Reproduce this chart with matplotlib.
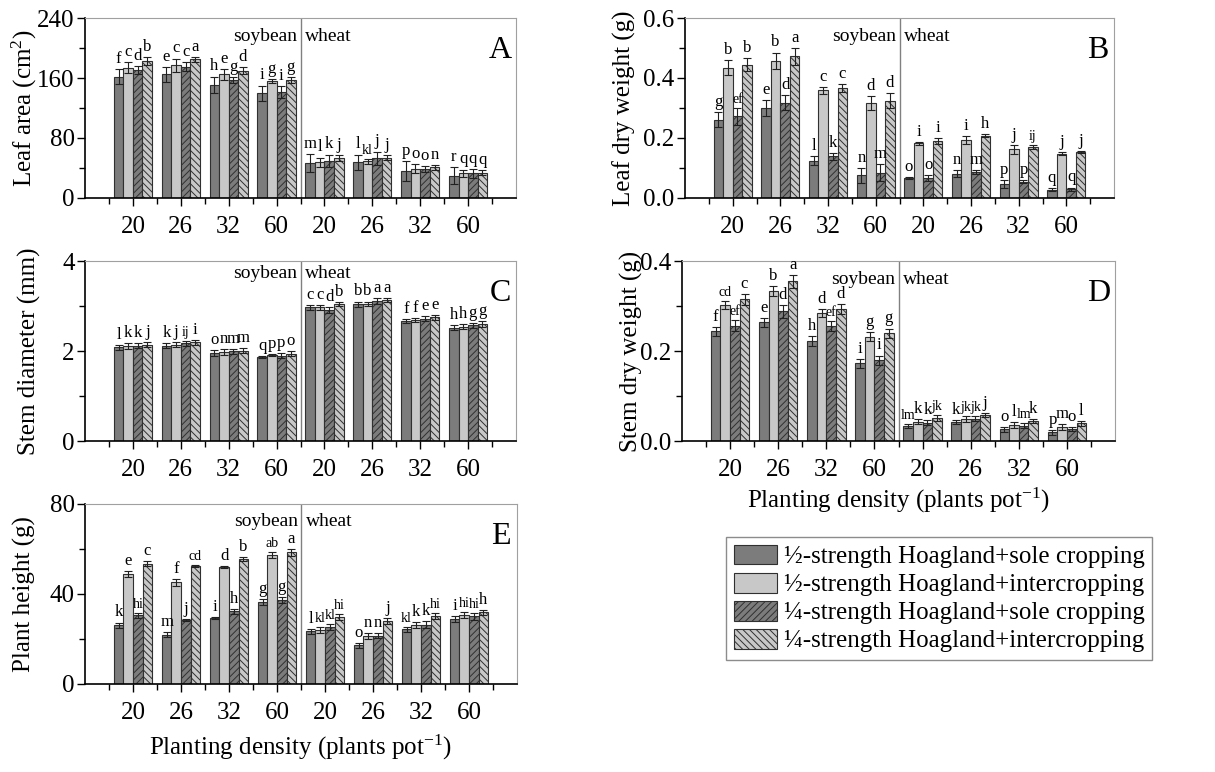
import numpy as np
import matplotlib
matplotlib.use("Agg")
import matplotlib.pyplot as plt
from matplotlib.patches import Patch
from matplotlib.ticker import MultipleLocator, FixedLocator, FormatStrFormatter

densities = ["20", "26", "32", "60", "20", "26", "32", "60"]
treatments = [
    "\u00bd-strength Hoagland+sole cropping",
    "\u00bd-strength Hoagland+intercropping",
    "\u00bc-strength Hoagland+sole cropping",
    "\u00bc-strength Hoagland+intercropping",
]

# A: leaf area (cm2)
leaf_area = [[162, 174, 171, 183], [165, 177, 175, 185], [151, 165, 157, 170], [140, 156, 141, 157],
             [47, 48, 50, 53], [48, 49, 53, 54], [36, 39, 39, 41], [30, 33, 33, 34]]
leaf_area_err = [[10, 7, 5, 5], [10, 9, 6, 3], [11, 7, 4, 5], [10, 3, 8, 4],
                 [12, 6, 8, 4], [10, 3, 9, 3], [13, 6, 4, 3], [11, 5, 6, 3]]
leaf_area_let = [["f", "c", "d", "b"], ["e", "c", "c", "a"], ["h", "e", "g", "d"], ["i", "g", "i", "g"],
                 ["m", "l", "k", "j"], ["l", "kl", "j", "j"], ["p", "o", "o", "n"], ["r", "q", "q", "q"]]

# B: leaf dry weight (g)
leaf_dw = [[0.261, 0.435, 0.272, 0.445], [0.300, 0.458, 0.317, 0.472], [0.125, 0.359, 0.139, 0.367],
           [0.076, 0.316, 0.084, 0.325], [0.067, 0.182, 0.068, 0.190], [0.081, 0.194, 0.087, 0.207],
           [0.046, 0.162, 0.054, 0.171], [0.028, 0.148, 0.030, 0.153]]
leaf_dw_err = [[0.025, 0.024, 0.027, 0.021], [0.026, 0.027, 0.025, 0.027], [0.014, 0.011, 0.012, 0.013],
               [0.025, 0.023, 0.028, 0.025], [0.004, 0.004, 0.010, 0.010], [0.011, 0.013, 0.006, 0.005],
               [0.013, 0.015, 0.005, 0.006], [0.005, 0.006, 0.005, 0.003]]
leaf_dw_let = [["g", "b", "ef", "b"], ["e", "b", "d", "a"], ["l", "c", "k", "c"], ["n", "d", "m", "d"],
               ["o", "i", "o", "i"], ["n", "i", "m", "h"], ["p", "j", "p", "ij"], ["q", "j", "q", "j"]]

# C: stem diameter (mm)
stem_dia = [[2.08, 2.11, 2.12, 2.14], [2.12, 2.14, 2.17, 2.19], [1.96, 1.98, 1.99, 2.01], [1.87, 1.91, 1.90, 1.94],
            [2.97, 2.97, 2.91, 3.04], [3.04, 3.05, 3.11, 3.13], [2.67, 2.69, 2.72, 2.75], [2.52, 2.54, 2.57, 2.60]]
stem_dia_err = [[0.06, 0.06, 0.06, 0.06], [0.06, 0.06, 0.06, 0.06], [0.06, 0.06, 0.06, 0.06], [0.02, 0.02, 0.06, 0.06],
                [0.05, 0.05, 0.06, 0.05], [0.06, 0.05, 0.06, 0.05], [0.05, 0.05, 0.06, 0.05], [0.05, 0.05, 0.05, 0.06]]
stem_dia_let = [["l", "k", "k", "j"], ["k", "j", "ij", "i"], ["o", "n", "m", "m"], ["q", "p", "p", "o"],
                ["c", "c", "d", "b"], ["b", "b", "a", "a"], ["f", "f", "e", "e"], ["h", "h", "g", "g"]]

# D: stem dry weight (g)
stem_dw = [[0.244, 0.302, 0.256, 0.315], [0.264, 0.333, 0.288, 0.355], [0.222, 0.284, 0.256, 0.293],
           [0.173, 0.232, 0.179, 0.240], [0.033, 0.043, 0.041, 0.051], [0.042, 0.049, 0.050, 0.058],
           [0.026, 0.036, 0.034, 0.044], [0.019, 0.031, 0.027, 0.039]]
stem_dw_err = [[0.010, 0.009, 0.012, 0.012], [0.010, 0.011, 0.014, 0.014], [0.011, 0.009, 0.011, 0.011],
               [0.010, 0.010, 0.011, 0.010], [0.005, 0.006, 0.006, 0.006], [0.005, 0.006, 0.006, 0.005],
               [0.006, 0.006, 0.006, 0.005], [0.006, 0.007, 0.005, 0.006]]
stem_dw_let = [["f", "cd", "ef", "c"], ["e", "b", "d", "a"], ["h", "d", "ef", "d"], ["i", "g", "i", "g"],
               ["lm", "k", "k", "jk"], ["k", "jk", "jk", "j"], ["o", "l", "lm", "k"], ["p", "m", "o", "l"]]

# E: plant height
height = [[26.1, 48.9, 30.5, 53.5], [21.9, 45.2, 28.3, 52.3], [29.3, 52.0, 32.3, 55.6], [36.4, 57.3, 37.3, 58.5],
          [23.4, 24.0, 25.3, 29.8], [17.2, 21.3, 21.5, 27.9], [24.3, 26.4, 26.4, 30.2], [28.9, 30.8, 30.1, 31.9]]
height_err = [[1.2, 1.5, 1.2, 1.2], [1.2, 1.5, 0.4, 0.4], [0.4, 0.4, 1.2, 1.0], [1.2, 1.4, 1.4, 1.4],
              [1.0, 1.5, 1.4, 1.3], [1.0, 1.2, 1.2, 1.3], [1.2, 1.3, 1.5, 1.4], [1.2, 1.3, 1.5, 1.1]]
height_let = [["k", "e", "hi", "c"], ["m", "f", "j", "cd"], ["i", "d", "h", "b"], ["g", "ab", "g", "a"],
              ["l", "kl", "kl", "hi"], ["o", "n", "n", "j"], ["kl", "k", "k", "hi"], ["i", "hi", "hi", "h"]]


def draw_panel(ax, vals, errs, lets, ymax, major, ylabel, tag, label_x, crop_y=0.9):
    vals = np.array(vals)
    errs = np.array(errs)
    x = np.arange(1, 9)
    offsets = [-0.3, -0.1, 0.1, 0.3]
    faces = ["#7c7c7c", "#c8c8c8", "#7c7c7c", "#c8c8c8"]
    hatches = [None, None, "/////", "\\\\\\\\\\"]
    for j in range(4):
        ax.bar(x + offsets[j], vals[:, j], width=0.2, color=faces[j], edgecolor="#303030",
               linewidth=0.8, hatch=hatches[j], zorder=2)
        ax.errorbar(x + offsets[j], vals[:, j], yerr=errs[:, j], fmt="none", ecolor="#202020",
                    elinewidth=0.8, capsize=3, capthick=0.8, zorder=3)
        for i in range(8):
            s = lets[i][j]
            ax.annotate(s, (x[i] + offsets[j], vals[i, j] + errs[i, j]),
                        xytext=(0, 1.5), textcoords="offset points",
                        ha="center", va="bottom", fontsize=12 if len(s) == 1 else 10)
    ax.axvline(4.5, color="#808080", linewidth=1.0, zorder=1)
    ax.text(4.43, crop_y, "soybean", transform=ax.get_xaxis_transform(), ha="right", va="center", fontsize=14)
    ax.text(4.6, crop_y, "wheat", transform=ax.get_xaxis_transform(), ha="left", va="center", fontsize=14)
    ax.text(0.963, 0.82, tag, transform=ax.transAxes, ha="center", va="center", fontsize=23)
    ax.set_xlim(0, 9)
    ax.set_ylim(0, ymax)
    ax.set_xticks(x)
    ax.set_xticklabels(densities)
    ax.xaxis.set_minor_locator(FixedLocator(np.arange(0.5, 9, 1.0)))
    ax.yaxis.set_major_locator(MultipleLocator(major))
    ax.yaxis.set_minor_locator(MultipleLocator(major / 2))
    ax.tick_params(which="major", direction="out", length=6, width=1, labelsize=18)
    ax.tick_params(which="minor", direction="out", length=4, width=1)
    ax.tick_params(axis="x", pad=7)
    ax.tick_params(axis="y", pad=1.5)
    for s in ["top", "right"]:
        ax.spines[s].set_color("#a0a0a0")
        ax.spines[s].set_linewidth(0.8)
    for s in ["left", "bottom"]:
        ax.spines[s].set_linewidth(1.2)
    ax.set_ylabel(ylabel, fontsize=18)
    ax.yaxis.set_label_coords(label_x, 0.5)


def main():
    plt.rcParams["font.family"] = ["Liberation Serif", "DejaVu Serif"]
    plt.rcParams["mathtext.fontset"] = "custom"
    plt.rcParams["mathtext.rm"] = "Liberation Serif"
    plt.rcParams["mathtext.it"] = "Liberation Serif:italic"
    plt.rcParams["hatch.linewidth"] = 0.7

    fig = plt.figure(figsize=(12.15, 7.72), dpi=100)
    W, H = 1215, 772

    def axes_at(x0, x1, ytop, ybot):
        return fig.add_axes([x0 / W, 1 - ybot / H, (x1 - x0) / W, (ybot - ytop) / H])

    axA = axes_at(85, 516, 18, 198)
    axB = axes_at(685, 1114, 18, 198)
    axC = axes_at(85, 516, 261, 441)
    axD = axes_at(682, 1115, 261, 441)
    axE = axes_at(85, 517, 504, 684)

    draw_panel(axA, leaf_area, leaf_area_err, leaf_area_let, 240, 80, "Leaf area (cm$^{2}$)", "A", -0.107)
    draw_panel(axB, leaf_dw, leaf_dw_err, leaf_dw_let, 0.6, 0.2, "Leaf dry weight (g)", "B", -0.114)
    draw_panel(axC, stem_dia, stem_dia_err, stem_dia_let, 4, 2, "Stem diameter (mm)", "C", -0.102, 0.93)
    draw_panel(axD, stem_dw, stem_dw_err, stem_dw_let, 0.4, 0.2, "Stem dry weight (g)", "D", -0.090)
    draw_panel(axE, height, height_err, height_let, 80, 40, "Plant height (g)", "E", -0.113)

    axB.yaxis.set_major_formatter(FormatStrFormatter("%.1f"))
    axD.yaxis.set_major_formatter(FormatStrFormatter("%.1f"))

    xlab = "Planting density (plants pot$^{-1}$)"
    fig.text(898 / W, 1 - 500 / H, xlab, ha="center", va="center", fontsize=18)
    fig.text(300 / W, 1 - 747 / H, xlab, ha="center", va="center", fontsize=18)

    handles = [
        Patch(facecolor="#7c7c7c", edgecolor="#303030", linewidth=0.8),
        Patch(facecolor="#c8c8c8", edgecolor="#303030", linewidth=0.8),
        Patch(facecolor="#7c7c7c", edgecolor="#303030", linewidth=0.8, hatch="/////"),
        Patch(facecolor="#c8c8c8", edgecolor="#303030", linewidth=0.8, hatch="\\\\\\\\\\"),
    ]
    leg = fig.legend(handles, treatments, loc="upper left", bbox_to_anchor=(726 / W, 1 - 537 / H),
                     fontsize=18, frameon=True, fancybox=False, handlelength=1.75, handleheight=0.85,
                     handletextpad=0.25, labelspacing=0.18, borderpad=0.3, borderaxespad=0)
    leg.get_frame().set_edgecolor("#707070")
    leg.get_frame().set_linewidth(1.0)

    fig.savefig("out.png", dpi=100)


if __name__ == "__main__":
    main()
